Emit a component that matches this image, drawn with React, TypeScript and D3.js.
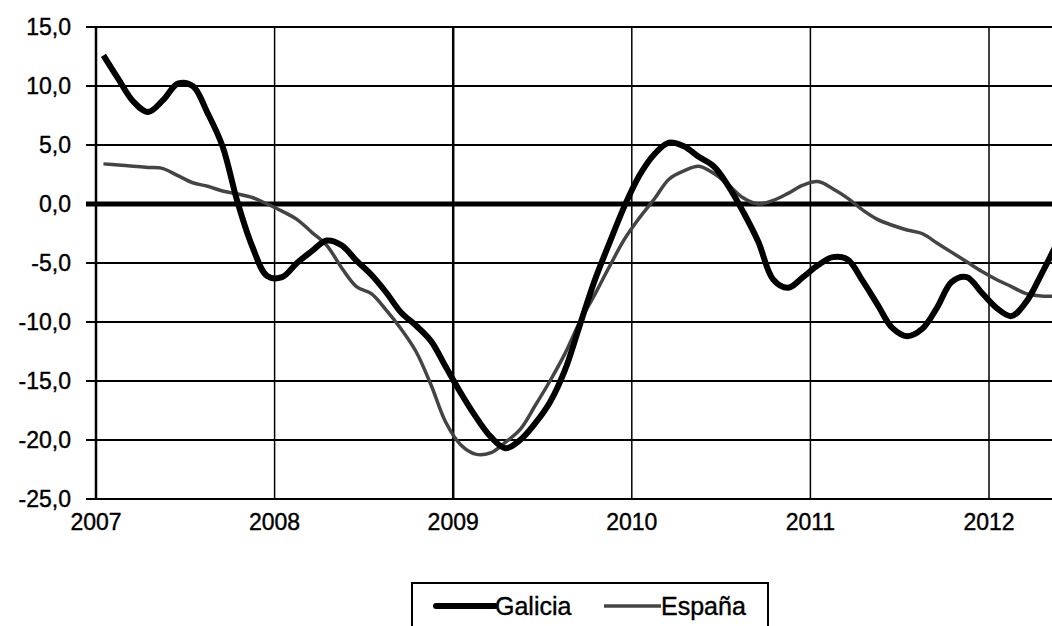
import React from "react";
import * as d3 from "d3";

// monthly values, Jan 2007 .. May 2012
const galicia = [
	12.6, 10.6, 8.7, 7.8, 8.8, 10.2, 10.0, 7.7, 4.9, 0.2, -3.6, -6.1,
	-6.2, -5.0, -4.0, -3.1, -3.5, -4.8, -6.0, -7.5, -9.2, -10.3, -11.6, -13.8,
	-16.0, -18.0, -19.7, -20.7, -20.0, -18.6, -16.8, -14.1, -10.3, -6.5, -3.3, -0.2,
	2.4, 4.2, 5.2, 4.9, 4.0, 3.2, 1.5, -0.7, -3.2, -6.4, -7.1, -6.2,
	-5.2, -4.5, -4.7, -6.5, -8.5, -10.5, -11.2, -10.6, -8.8, -6.6, -6.2, -7.5,
	-8.8, -9.5, -8.3, -6.0, -3.5,
];
const espana = [
	3.4, 3.3, 3.2, 3.1, 3.0, 2.4, 1.8, 1.5, 1.1, 0.85, 0.55, 0.0,
	-0.6, -1.3, -2.4, -3.5, -5.4, -7.0, -7.6, -9.0, -10.6, -12.5, -15.3, -18.5,
	-20.4, -21.2, -21.1, -20.2, -19.1, -17.1, -15.0, -12.7, -10.0, -7.7, -5.3, -3.0,
	-1.2, 0.4, 2.1, 2.8, 3.2, 2.6, 1.6, 0.5, 0.0, 0.3, 0.9, 1.6,
	1.9, 1.3, 0.5, -0.5, -1.3, -1.8, -2.2, -2.5, -3.3, -4.1, -4.9, -5.7,
	-6.4, -7.0, -7.6, -7.8, -7.8,
];
const years = [2007, 2008, 2009, 2010, 2011, 2012];
const yTicks = [15, 10, 5, 0, -5, -10, -15, -20, -25];

const W = 1052;
const H = 626;
const FONT = "'Liberation Sans', Arial, sans-serif";
const FS = 23;

export default function App() {
	const x = d3.scaleLinear().domain([2007, 2012.5]).range([96, 96 + 5.5 * 178.6]);
	const y = d3.scaleLinear().domain([-25, 15]).range([499, 27]);
	const fmt = (v: number) => d3.format(".1f")(v).replace(".", ",").replace("−", "-");
	const date = (i: number) => 2007 + (i + 0.5) / 12;

	const line = d3
		.line<number>()
		.x((_, i) => x(date(i)))
		.y((d) => y(d))
		.curve(d3.curveCatmullRom.alpha(0.5));

	const txt = { fontFamily: FONT, fontSize: FS, stroke: "#000", strokeWidth: 0.4 };
	const legTxt = { ...txt, fontSize: 25 };

	return (
		<svg
			width={W}
			height={H}
			style={{ position: "absolute", left: 0, top: 0, background: "#fff" }}
		>
			{/* horizontal grid */}
			{yTicks.map((t) => (
				<g key={t}>
					<line
						x1={86}
						x2={W}
						y1={y(t)}
						y2={y(t)}
						stroke="#000"
						strokeWidth={t === 0 ? 5 : 2}
					/>
					<text x={71} y={y(t)} dy="0.36em" textAnchor="end" {...txt}>
						{fmt(t)}
					</text>
				</g>
			))}
			{/* vertical grid */}
			{years.map((yr) => (
				<g key={yr}>
					<line
						x1={x(yr)}
						x2={x(yr)}
						y1={y(15)}
						y2={y(-25)}
						stroke="#000"
						strokeWidth={yr === 2007 || yr === 2009 ? 2.5 : 1.5}
					/>
					<text x={x(yr)} y={530} textAnchor="middle" {...txt}>
						{yr}
					</text>
				</g>
			))}

			<path d={line(espana) ?? ""} fill="none" stroke="#444" strokeWidth={3.5} />
			<path d={line(galicia) ?? ""} fill="none" stroke="#000" strokeWidth={6} strokeLinejoin="round" />

			{/* legend */}
			<rect x={412} y={583} width={356} height={60} fill="#fff" stroke="#000" strokeWidth={2} />
			<line x1={436} x2={495} y1={606} y2={606} stroke="#000" strokeWidth={6} strokeLinecap="round" />
			<text x={495} y={615} {...legTxt}>
				Galicia
			</text>
			<line x1={604} x2={661} y1={606} y2={606} stroke="#444" strokeWidth={3.5} />
			<text x={661} y={615} {...legTxt}>
				España
			</text>
		</svg>
	);
}
